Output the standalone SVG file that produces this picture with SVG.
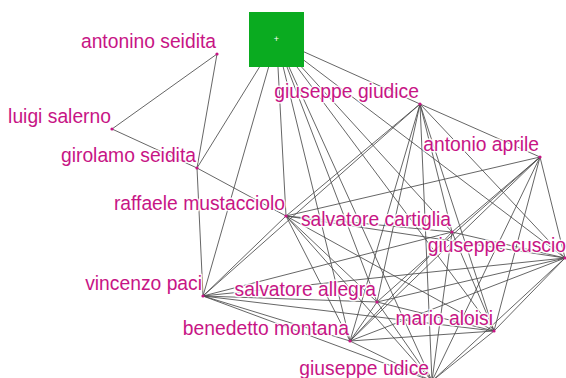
<svg xmlns="http://www.w3.org/2000/svg" width="566" height="378" viewBox="0 0 566 378">
<style>
.e{stroke:#4a4a4a;stroke-width:0.85;fill:none}
.d{fill:#c71585}
.t{font-family:"Liberation Sans",Arial,sans-serif;font-size:19.3px;fill:#c71585;text-anchor:end;stroke:#fff;stroke-width:3;stroke-opacity:0.85;paint-order:stroke;stroke-linejoin:round}
</style>
<rect width="566" height="378" fill="#fff"/>
<g id="connectors">
<line class="e" x1="217" y1="54" x2="112" y2="129"/>
<line class="e" x1="217" y1="54" x2="197" y2="168"/>
<line class="e" x1="112" y1="129" x2="197" y2="168"/>
<line class="e" x1="197" y1="168" x2="276.5" y2="39.5"/>
<line class="e" x1="197" y1="168" x2="203" y2="296"/>
<line class="e" x1="197" y1="168" x2="286" y2="216"/>
<line class="e" x1="276.5" y1="39.5" x2="203" y2="296"/>
<line class="e" x1="276.5" y1="39.5" x2="286" y2="216"/>
<line class="e" x1="276.5" y1="39.5" x2="350" y2="341"/>
<line class="e" x1="276.5" y1="39.5" x2="377" y2="302"/>
<line class="e" x1="276.5" y1="39.5" x2="432" y2="381"/>
<line class="e" x1="276.5" y1="39.5" x2="494" y2="331"/>
<line class="e" x1="276.5" y1="39.5" x2="452" y2="232"/>
<line class="e" x1="276.5" y1="39.5" x2="420" y2="104"/>
<line class="e" x1="276.5" y1="39.5" x2="565" y2="258"/>
<line class="e" x1="420" y1="104" x2="540" y2="157"/>
<line class="e" x1="420" y1="104" x2="286" y2="216"/>
<line class="e" x1="420" y1="104" x2="203" y2="296"/>
<line class="e" x1="420" y1="104" x2="350" y2="341"/>
<line class="e" x1="420" y1="104" x2="377" y2="302"/>
<line class="e" x1="420" y1="104" x2="432" y2="381"/>
<line class="e" x1="420" y1="104" x2="452" y2="232"/>
<line class="e" x1="420" y1="104" x2="494" y2="331"/>
<line class="e" x1="420" y1="104" x2="565" y2="258"/>
<line class="e" x1="540" y1="157" x2="286" y2="216"/>
<line class="e" x1="540" y1="157" x2="452" y2="232"/>
<line class="e" x1="540" y1="157" x2="377" y2="302"/>
<line class="e" x1="540" y1="157" x2="350" y2="341"/>
<line class="e" x1="540" y1="157" x2="432" y2="381"/>
<line class="e" x1="540" y1="157" x2="494" y2="331"/>
<line class="e" x1="540" y1="157" x2="565" y2="258"/>
<line class="e" x1="203" y1="296" x2="286" y2="216"/>
<line class="e" x1="203" y1="296" x2="452" y2="232"/>
<line class="e" x1="203" y1="296" x2="565" y2="258"/>
<line class="e" x1="203" y1="296" x2="377" y2="302"/>
<line class="e" x1="203" y1="296" x2="494" y2="331"/>
<line class="e" x1="203" y1="296" x2="350" y2="341"/>
<line class="e" x1="203" y1="296" x2="432" y2="381"/>
<line class="e" x1="286" y1="216" x2="452" y2="232"/>
<line class="e" x1="286" y1="216" x2="565" y2="258"/>
<line class="e" x1="286" y1="216" x2="377" y2="302"/>
<line class="e" x1="286" y1="216" x2="350" y2="341"/>
<line class="e" x1="286" y1="216" x2="494" y2="331"/>
<line class="e" x1="286" y1="216" x2="432" y2="381"/>
<line class="e" x1="452" y1="232" x2="565" y2="258"/>
<line class="e" x1="452" y1="232" x2="350" y2="341"/>
<line class="e" x1="452" y1="232" x2="494" y2="331"/>
<line class="e" x1="452" y1="232" x2="432" y2="381"/>
<line class="e" x1="565" y1="258" x2="377" y2="302"/>
<line class="e" x1="565" y1="258" x2="350" y2="341"/>
<line class="e" x1="565" y1="258" x2="494" y2="331"/>
<line class="e" x1="565" y1="258" x2="432" y2="381"/>
<line class="e" x1="377" y1="302" x2="494" y2="331"/>
<line class="e" x1="377" y1="302" x2="350" y2="341"/>
<line class="e" x1="377" y1="302" x2="432" y2="381"/>
<line class="e" x1="350" y1="341" x2="494" y2="331"/>
<line class="e" x1="350" y1="341" x2="432" y2="381"/>
<line class="e" x1="494" y1="331" x2="432" y2="381"/>
</g>
<g id="n-square">
<rect x="249" y="12" width="55" height="55" fill="#0aab20"/>
<text x="276.5" y="42" font-family="Liberation Sans,Arial,sans-serif" font-size="9" fill="#fff" text-anchor="middle">+</text>
</g>
<g id="n-antonino"><circle class="d" cx="217" cy="54" r="1.6"/><text class="t" x="216" y="48">antonino seidita</text></g>
<g id="n-luigi"><circle class="d" cx="112" cy="129" r="1.6"/><text class="t" x="111" y="123">luigi salerno</text></g>
<g id="n-girolamo"><circle class="d" cx="197" cy="168" r="1.6"/><text class="t" x="196" y="162">girolamo seidita</text></g>
<g id="n-giudice"><circle class="d" cx="420" cy="104" r="1.6"/><text class="t" x="419" y="98">giuseppe giudice</text></g>
<g id="n-aprile"><circle class="d" cx="540" cy="157" r="1.6"/><text class="t" x="539" y="151">antonio aprile</text></g>
<g id="n-mustacciolo"><circle class="d" cx="286" cy="216" r="1.6"/><text class="t" x="285" y="210">raffaele mustacciolo</text></g>
<g id="n-cartiglia"><circle class="d" cx="452" cy="232" r="1.6"/><text class="t" x="451" y="226">salvatore cartiglia</text></g>
<g id="n-cuscio"><circle class="d" cx="565" cy="258" r="1.6"/><text class="t" x="566" y="252">giuseppe cuscio</text></g>
<g id="n-paci"><circle class="d" cx="203" cy="296" r="1.6"/><text class="t" x="202" y="290">vincenzo paci</text></g>
<g id="n-allegra"><circle class="d" cx="377" cy="302" r="1.6"/><text class="t" x="376" y="296">salvatore allegra</text></g>
<g id="n-montana"><circle class="d" cx="350" cy="341" r="1.6"/><text class="t" x="349" y="335">benedetto montana</text></g>
<g id="n-aloisi"><circle class="d" cx="494" cy="331" r="1.6"/><text class="t" x="493" y="325">mario aloisi</text></g>
<g id="n-udice"><circle class="d" cx="432" cy="381" r="1.6"/><text class="t" x="429" y="375">giuseppe udice</text></g>
</svg>
